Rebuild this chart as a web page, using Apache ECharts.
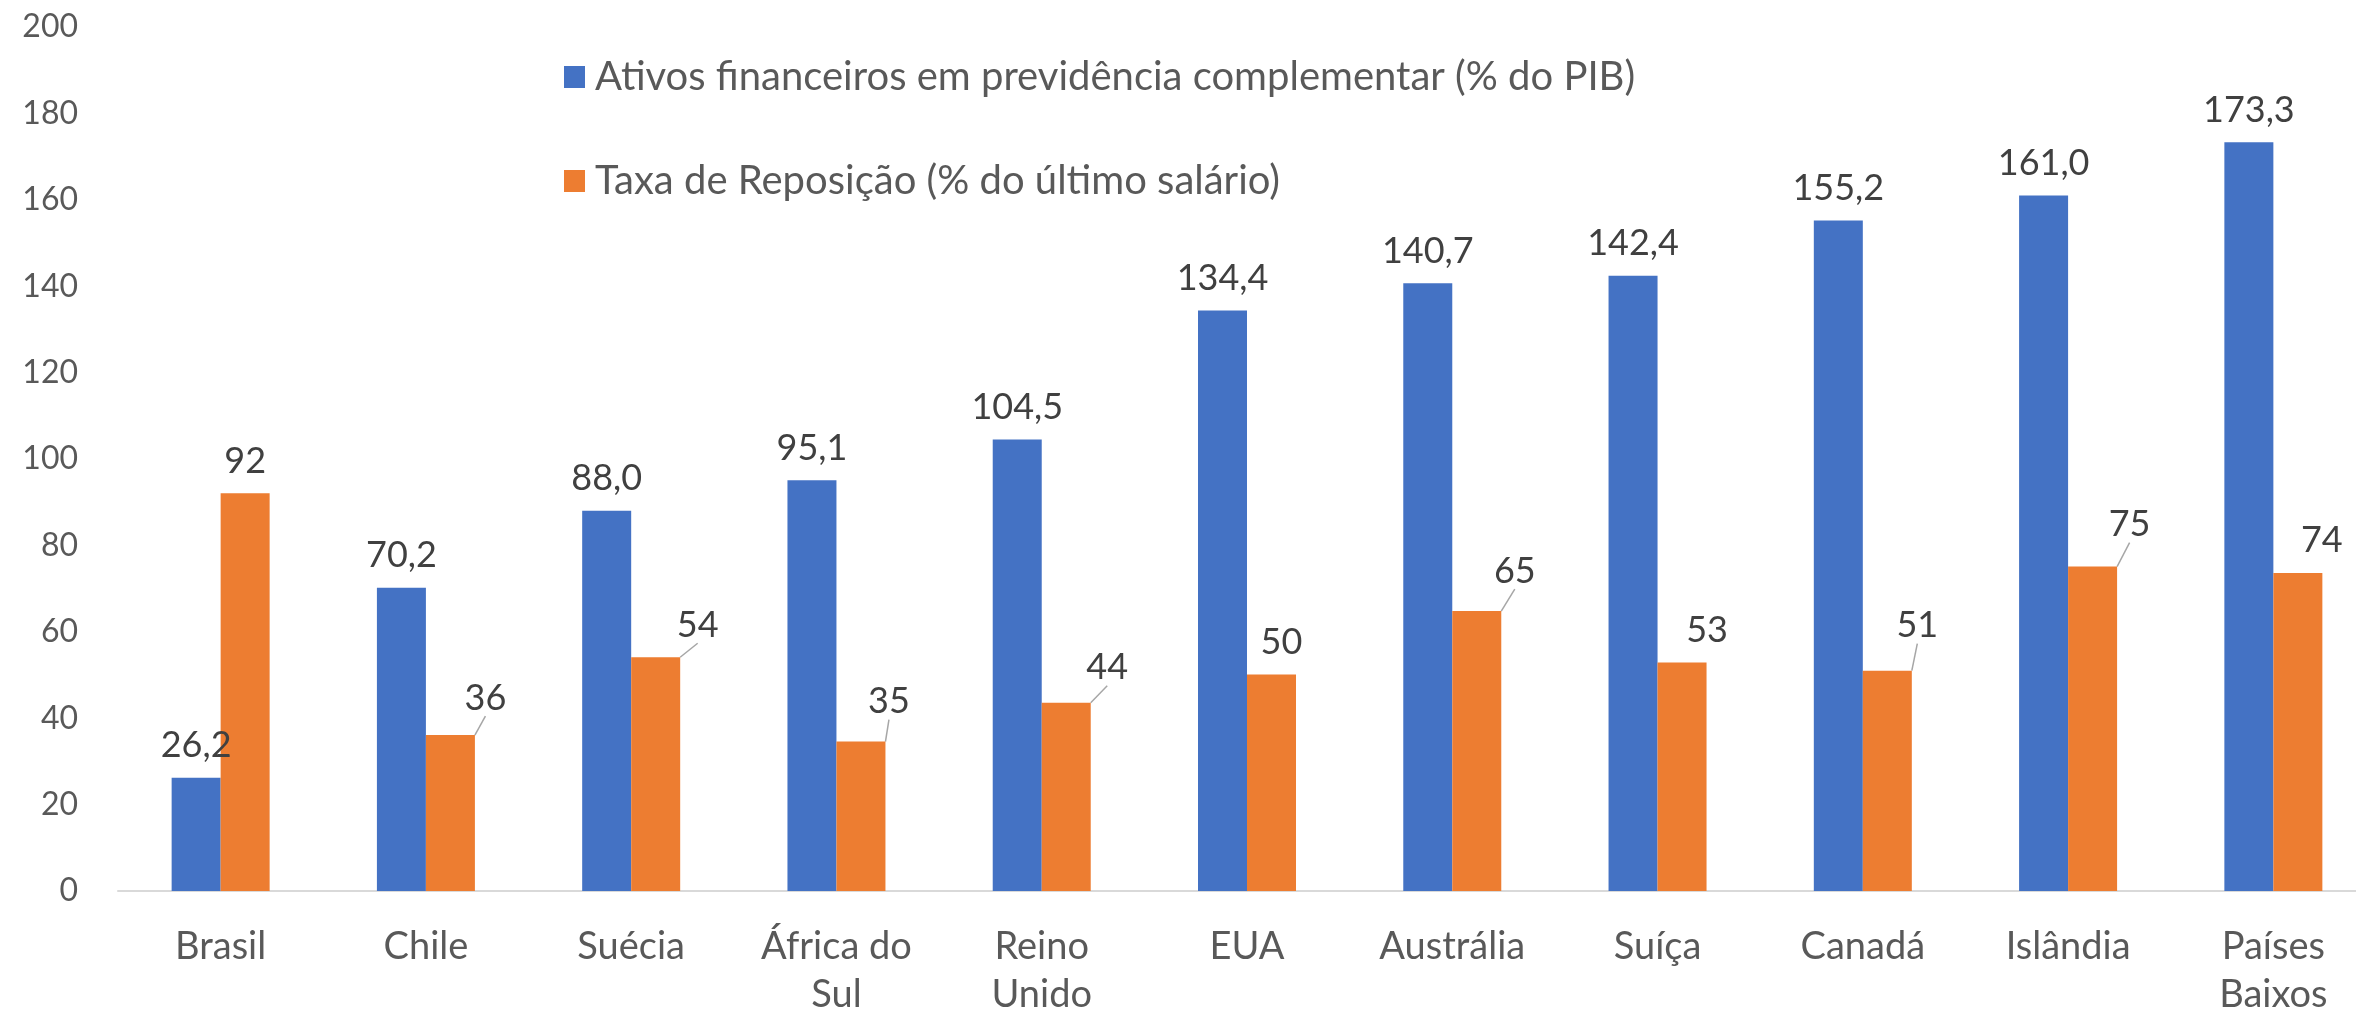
<!DOCTYPE html>
<html>
<head>
<meta charset="utf-8">
<script src="https://cdn.jsdelivr.net/npm/echarts@6/dist/echarts.min.js"></script>
<style>
html,body{margin:0;padding:0;background:#fff;}
#chart{width:2356px;height:1014px;}
</style>
</head>
<body>
<div id="chart"></div>
<script>
// ---- data ----
const categories = ['Brasil','Chile','Suécia','África do Sul','Reino Unido','EUA','Austrália','Suíça','Canadá','Islândia','Países Baixos'];
const seriesNames = ['Ativos financeiros em previdência complementar (% do PIB)','Taxa de Reposição (% do último salário)'];
const ativos = [26.2, 70.2, 88.0, 95.1, 104.5, 134.4, 140.7, 142.4, 155.2, 161.0, 173.3];
const taxa = [92.1, 36.1, 54.1, 34.6, 43.6, 50.1, 64.8, 52.9, 51.0, 75.1, 73.6];
const yTicks = [0, 20, 40, 60, 80, 100, 120, 140, 160, 180, 200];

// ---- layout (label placement for the orange series, as in the original) ----
const taxaLabelShift = [[0,0],[35,-5],[42,0],[28,-8],[41,-3],[10,0],[38,-8],[25,0],[30,-13],[37,-10],[24,-1]];
const taxaLeader = [false,true,true,true,true,false,true,false,true,true,false];

const FONT = 'Lato';
const chart = echarts.init(document.getElementById('chart'), null, {renderer:'canvas'});

const option = {
  animation: false,
  backgroundColor: '#ffffff',
  textStyle: {fontFamily: FONT},
  grid: {left: 118, width: 2258, top: 27, bottom: 123, containLabel: false, outerBoundsMode: 'none'},
  legend: {
    orient: 'vertical',
    left: 559,
    top: 51,
    itemWidth: 21,
    itemHeight: 22,
    itemGap: 62,
    icon: 'rect',
    data: seriesNames,
    textStyle: {fontFamily: FONT, fontSize: 40, color: '#595959', lineHeight: 42, padding: [0,0,0,5]}
  },
  xAxis: {
    type: 'category',
    data: categories,
    axisLine: {show: true, lineStyle: {color: '#d9d9d9', width: 2}},
    axisTick: {show: false},
    axisLabel: {
      fontFamily: FONT, fontSize: 38, color: '#595959', margin: 32, lineHeight: 48,
      interval: 0,
      formatter: function (v) {
        const i = v.lastIndexOf(' ');
        return i > 0 ? v.slice(0, i) + '\n' + v.slice(i + 1) : v;
      }
    }
  },
  yAxis: {
    type: 'value',
    min: yTicks[0],
    max: yTicks[yTicks.length - 1],
    interval: yTicks[1] - yTicks[0],
    splitLine: {show: false},
    axisLine: {show: false},
    axisTick: {show: false},
    axisLabel: {fontFamily: FONT, fontSize: 32, color: '#595959', margin: 40}
  },
  series: [
    {
      name: seriesNames[0],
      type: 'bar',
      data: ativos,
      barWidth: 49,
      barGap: '0%',
      itemStyle: {color: '#4472C4'},
      label: {
        show: true, position: 'top', distance: 14,
        fontFamily: FONT, fontSize: 36, color: '#404040',
        formatter: p => p.value.toFixed(1).replace('.', ',')
      }
    },
    {
      name: seriesNames[1],
      type: 'bar',
      data: taxa.map((v, i) => ({value: v, labelLine: {show: taxaLeader[i]}})),
      barWidth: 49,
      barGap: '0%',
      itemStyle: {color: '#ED7D31'},
      label: {
        show: true, position: 'top', distance: 14,
        fontFamily: FONT, fontSize: 36, color: '#404040',
        formatter: p => String(Math.round(p.value))
      },
      labelLine: {show: true, lineStyle: {color: '#a6a6a6', width: 1.5}},
      labelLayout: function (params) {
        const s = taxaLabelShift[params.dataIndex];
        return {dx: s[0], dy: s[1]};
      }
    }
  ]
};
chart.setOption(option);
</script>
</body>
</html>
